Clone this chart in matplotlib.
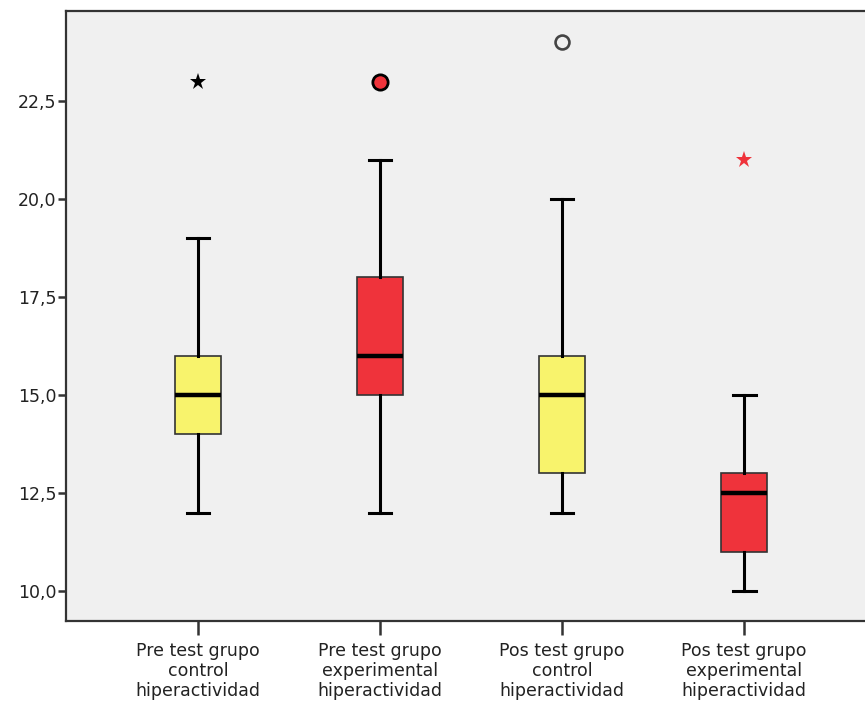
import matplotlib
matplotlib.use("Agg")
import matplotlib.pyplot as plt

# ---- data ----
categories = ["Pre test grupo\ncontrol\nhiperactividad",
              "Pre test grupo\nexperimental\nhiperactividad",
              "Pos test grupo\ncontrol\nhiperactividad",
              "Pos test grupo\nexperimental\nhiperactividad"]
whisker_low = [12, 12, 12, 10]
q1 = [14, 15, 13, 11]
medians = [15, 16, 15, 12.5]
q3 = [16, 18, 16, 13]
whisker_high = [19, 21, 20, 15]
outliers = [[23], [23], [24], [21]]
outlier_kind = ["extreme", "mild", "mild", "extreme"]

yticks = [10.0, 12.5, 15.0, 17.5, 20.0, 22.5]
ytick_labels = ["10,0", "12,5", "15,0", "17,5", "20,0", "22,5"]

box_colors = ["#F8F36C", "#EF333B", "#F8F36C", "#EF333B"]

plt.rcParams['font.family'] = ['DejaVu Sans']

fig = plt.figure(figsize=(8.65, 7.04), dpi=100)
W, H = 865, 704
left, right, top, bottom = 66, 866, 11, 621
ax = fig.add_axes([left / W, 1 - bottom / H, (right - left) / W, (bottom - top) / H])
ax.set_facecolor("#F0F0F0")

positions = [1, 2, 3, 4]
for i, pos in enumerate(positions):
    stats = [dict(med=medians[i], q1=q1[i], q3=q3[i],
                  whislo=whisker_low[i], whishi=whisker_high[i], fliers=[])]
    ax.bxp(stats, positions=[pos], widths=0.253, capwidths=0.126,
           patch_artist=True, showfliers=False,
           boxprops=dict(facecolor=box_colors[i], edgecolor="#333333", linewidth=1.2),
           medianprops=dict(color="black", linewidth=3.2, solid_capstyle="butt"),
           whiskerprops=dict(color="black", linewidth=2.2),
           capprops=dict(color="black", linewidth=2.2))
    face = box_colors[i]
    for v in outliers[i]:
        if outlier_kind[i] == "extreme":
            col = "black" if face.startswith("#F8") else "#EF333B"
            ax.plot([pos], [v], marker="*", markersize=12.5, color=col,
                    markeredgewidth=0, linestyle="none", zorder=5)
        else:
            if face.startswith("#F8"):
                ax.plot([pos], [v], marker="o", markersize=10, markerfacecolor="none",
                        markeredgecolor="#444444", markeredgewidth=1.9,
                        linestyle="none", zorder=5)
            else:
                ax.plot([pos], [v], marker="o", markersize=11, markerfacecolor=face,
                        markeredgecolor="black", markeredgewidth=2.0,
                        linestyle="none", zorder=5)

ax.set_xlim(0.275, 4.67)
ax.set_ylim(9.235, 24.80)
ax.set_yticks(yticks)
ax.set_yticklabels(ytick_labels)
ax.set_xticks(positions)
ax.set_xticklabels(categories, linespacing=1.15)

for s in ["left", "bottom", "top"]:
    ax.spines[s].set_color("#333333")
    ax.spines[s].set_linewidth(1.6)
ax.spines["right"].set_visible(False)

ax.tick_params(axis="y", length=6, width=1.8, color="#333333", pad=1, labelsize=12.5,
               labelcolor="#222222")
ax.tick_params(axis="x", length=10, width=1.8, color="#333333", pad=5, labelsize=12.5,
               labelcolor="#222222")

fig.savefig("out.png", dpi=100, facecolor="white")
